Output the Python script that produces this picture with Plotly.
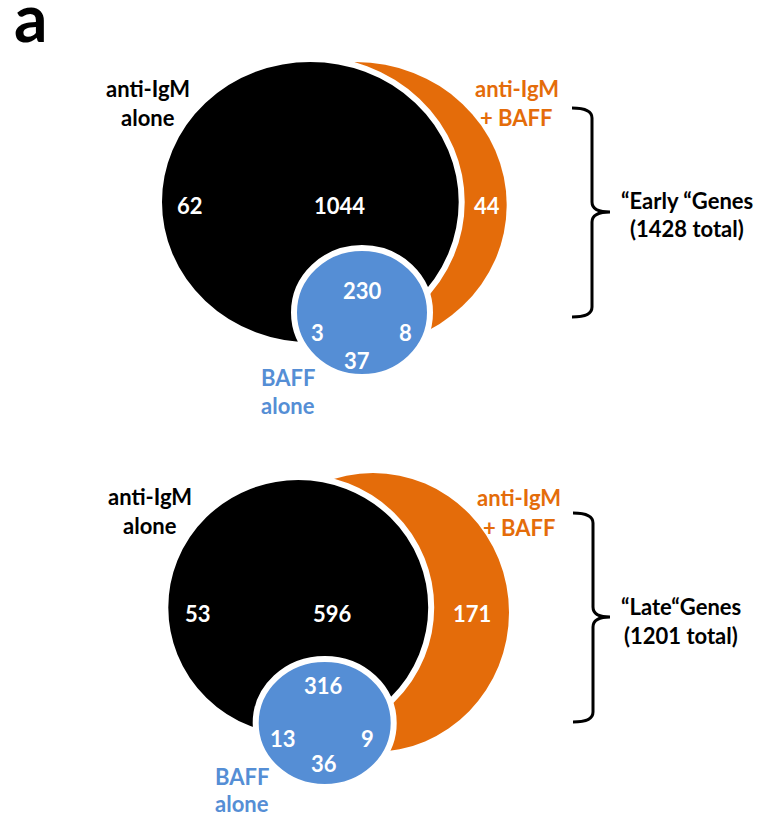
import plotly.graph_objects as go

# ---- data -------------------------------------------------------------
panels = ["early", "late"]

# gene counts per Venn region
igm_only = [62, 53]            # anti-IgM alone, not in other sets
igm_core = [1044, 596]         # anti-IgM alone ∩ anti-IgM + BAFF
combo_only = [44, 171]         # anti-IgM + BAFF only
triple = [230, 316]            # all three
baff_igm = [3, 13]             # BAFF alone ∩ anti-IgM alone
baff_combo = [8, 9]            # BAFF alone ∩ anti-IgM + BAFF
baff_only = [37, 36]           # BAFF alone only

group_titles = ["\u201cEarly \u201cGenes", "\u201cLate\u201cGenes"]
group_totals = ["(1428 total)", "(1201 total)"]

set_igm = ["anti-IgM", "alone"]
set_combo = ["anti-IgM", "+ BAFF"]
set_baff = ["BAFF", "alone"]

# ---- styling ----------------------------------------------------------
W, H = 759, 816
BLACK = "#000000"
ORANGE = "#E46C0A"
BLUE = "#558ED5"
WHITE = "#FFFFFF"
FONT = "Lato"
FS = 22

# ellipse boxes (x0, x1, y0, y1) in page pixels, one entry per panel
orange_box = [(204.7, 506.7, 62, 348), (237, 509, 473, 752)]
black_box = [(159, 461.7, 59, 345), (165.3, 431.2, 477, 738)]
blue_box = [(294, 430, 248, 377), (255.7, 393.7, 659, 787)]

# label anchor points per panel
pos = {
    "igm_only": [(190, 205), (197.5, 613)],
    "igm_core": [(339.5, 205), (332, 613)],
    "combo_only": [(487, 205), (472, 613)],
    "triple": [(362, 290), (323, 685)],
    "baff_igm": [(317.5, 332.5), (282.5, 738)],
    "baff_combo": [(405, 332.5), (367.5, 738)],
    "baff_only": [(356.5, 360), (323.5, 763)],
    "set_igm": [(148, 88, 117), (150, 496, 525)],
    "set_combo": [(516.5, 88, 117), (519, 497, 527)],
    "set_baff": [(288, 377, 405), (242, 776, 803)],
    "title": [(686.5, 200, 228), (681, 606, 635)],
    "brace": [(572, 592, 610, 108, 212, 317), (573, 593, 610, 513, 617, 722)],
}

fig = go.Figure()
shapes = []
annotations = []


def label(x, y, text, color, size=FS, **extra):
    ann = dict(
        x=x, y=y, xref="x", yref="y", text=f"<b>{text}</b>", showarrow=False,
        xanchor="center", yanchor="middle",
        font=dict(family=FONT, size=size, color=color),
    )
    ann.update(extra)
    annotations.append(ann)


for i, _ in enumerate(panels):
    for box, fill, lw in ((orange_box[i], ORANGE, 0),
                          (black_box[i], BLACK, 6),
                          (blue_box[i], BLUE, 6)):
        x0, x1, y0, y1 = box
        shapes.append(dict(
            type="circle", xref="x", yref="y", x0=x0, x1=x1, y0=y0, y1=y1,
            fillcolor=fill, line=dict(color=WHITE, width=lw), layer="above",
        ))

    # region counts
    for key, vals in (("igm_only", igm_only), ("igm_core", igm_core),
                      ("combo_only", combo_only), ("triple", triple),
                      ("baff_igm", baff_igm), ("baff_combo", baff_combo),
                      ("baff_only", baff_only)):
        x, y = pos[key][i]
        label(x, y, str(vals[i]), WHITE)

    # set names
    for key, words, color in (("set_igm", set_igm, BLACK),
                              ("set_combo", set_combo, ORANGE),
                              ("set_baff", set_baff, BLUE)):
        x, ya, yb = pos[key][i]
        label(x, ya, words[0], color)
        label(x, yb, words[1], color)

    # group caption
    x, ya, yb = pos["title"][i]
    label(x, ya, group_titles[i], BLACK)
    label(x, yb, group_totals[i], BLACK)

    # right curly brace
    xl, xv, xt, yt, ym, yb = pos["brace"][i]
    r = 10
    path = (f"M {xl},{yt} Q {xv},{yt} {xv},{yt + r} "
            f"L {xv},{ym - r} Q {xv},{ym} {xt},{ym} "
            f"Q {xv},{ym} {xv},{ym + r} "
            f"L {xv},{yb - r} Q {xv},{yb} {xl},{yb}")
    shapes.append(dict(type="path", xref="x", yref="y", path=path,
                       line=dict(color=BLACK, width=3), layer="above"))

# panel letter (compact box so it sits in the corner)
label(31, 29, "a", BLACK, size=66, height=54, valign="bottom")

fig.update_layout(
    width=W, height=H,
    margin=dict(l=0, r=0, t=0, b=0),
    paper_bgcolor=WHITE, plot_bgcolor=WHITE,
    showlegend=False,
    shapes=shapes, annotations=annotations,
    xaxis=dict(range=[0, W], visible=False, fixedrange=True),
    yaxis=dict(range=[H, 0], visible=False, fixedrange=True),
)

fig.write_html("out.html", config={"displayModeBar": False})
